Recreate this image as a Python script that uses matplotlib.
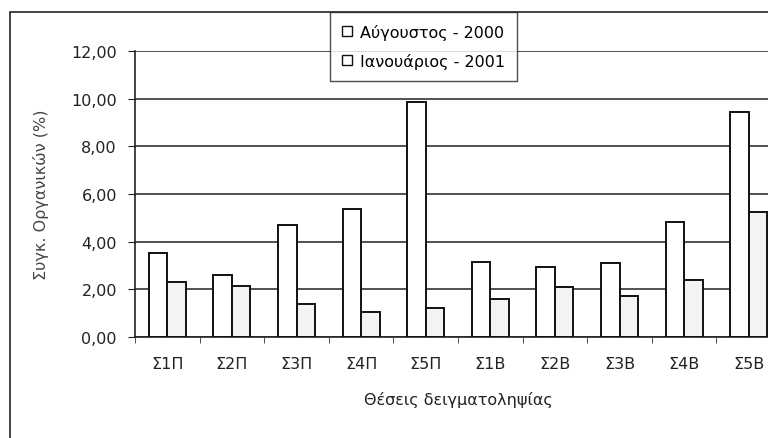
import numpy as np
import matplotlib
matplotlib.use('Agg')
import matplotlib.pyplot as plt
from matplotlib.patches import Rectangle, Patch

plt.rcParams['font.family'] = ['DejaVu Sans']

# Sampling stations and organic content (%) for the two campaigns
stations = ['Σ1Π', 'Σ2Π', 'Σ3Π', 'Σ4Π', 'Σ5Π', 'Σ1B', 'Σ2B', 'Σ3B', 'Σ4B', 'Σ5B']
aug_2000 = [3.52, 2.61, 4.70, 5.37, 9.86, 3.16, 2.92, 3.10, 4.81, 9.45]
jan_2001 = [2.29, 2.15, 1.38, 1.04, 1.20, 1.59, 2.08, 1.73, 2.40, 5.23]
series_names = ['Αύγουστος - 2000', 'Ιανουάριος - 2001']
yticks = [0, 2, 4, 6, 8, 10, 12]

W, H = 768, 439
fs = 11.5
fig = plt.figure(figsize=(W / 100, H / 100), dpi=100)

# outer chart border (cropped on the right and bottom like the scan)
fig.patches.append(Rectangle((10 / W, -0.1), 1.2, 1 - 13 / H + 0.1,
                             transform=fig.transFigure, fill=False,
                             edgecolor='#222222', linewidth=1.2))

ax = fig.add_axes([135 / W, 101 / H, 646 / W, 286 / H])

x = np.arange(len(stations))
bw = 1 / 3.5   # excel gap width 150%
ax.bar(x - bw / 2, aug_2000, bw, color='white', edgecolor='#111111',
       linewidth=1.4, zorder=3)
ax.bar(x + bw / 2, jan_2001, bw, color='#f3f3f3', edgecolor='#111111',
       linewidth=1.4, zorder=3)

ax.set_xlim(-0.5, len(stations) - 0.5)
ax.set_ylim(0, 12)
ax.set_yticks(yticks)
ax.set_yticklabels([f'{v:.2f}'.replace('.', ',') for v in yticks])
ax.set_xticks(x)
ax.set_xticklabels(stations)
ax.set_xticks(np.arange(-0.5, len(stations)), minor=True)
ax.tick_params(axis='x', which='major', length=0, pad=14, labelsize=fs,
               colors='#222222')
ax.tick_params(axis='x', which='minor', length=4, direction='out',
               color='#333333')
ax.tick_params(axis='y', length=5, direction='out', labelsize=fs,
               colors='#222222', pad=8)

ax.yaxis.grid(True, color='#222222', linewidth=1.1, zorder=0)
ax.set_axisbelow(True)
for s in ['top', 'right']:
    ax.spines[s].set_visible(False)
for s in ['left', 'bottom']:
    ax.spines[s].set_color('#222222')
    ax.spines[s].set_linewidth(1.2)

ax.set_ylabel('Συγκ. Οργανικών (%)', fontsize=fs, color='#444444', labelpad=16)
ax.set_xlabel('Θέσεις δειγματοληψίας', fontsize=fs, color='#222222', labelpad=14)

handles = [Patch(facecolor='white', edgecolor='#111111', linewidth=1.0),
           Patch(facecolor='white', edgecolor='#111111', linewidth=1.0)]
leg = fig.legend(handles, series_names, loc='upper left',
                 bbox_to_anchor=(330 / W, 1 - 13 / H), fontsize=fs,
                 frameon=True, fancybox=False, edgecolor='#222222',
                 handlelength=0.6, handleheight=0.6, handletextpad=0.5,
                 borderpad=0.75, labelspacing=0.8, borderaxespad=0)
leg.get_frame().set_linewidth(1.0)

fig.savefig('out.png', dpi=100)
